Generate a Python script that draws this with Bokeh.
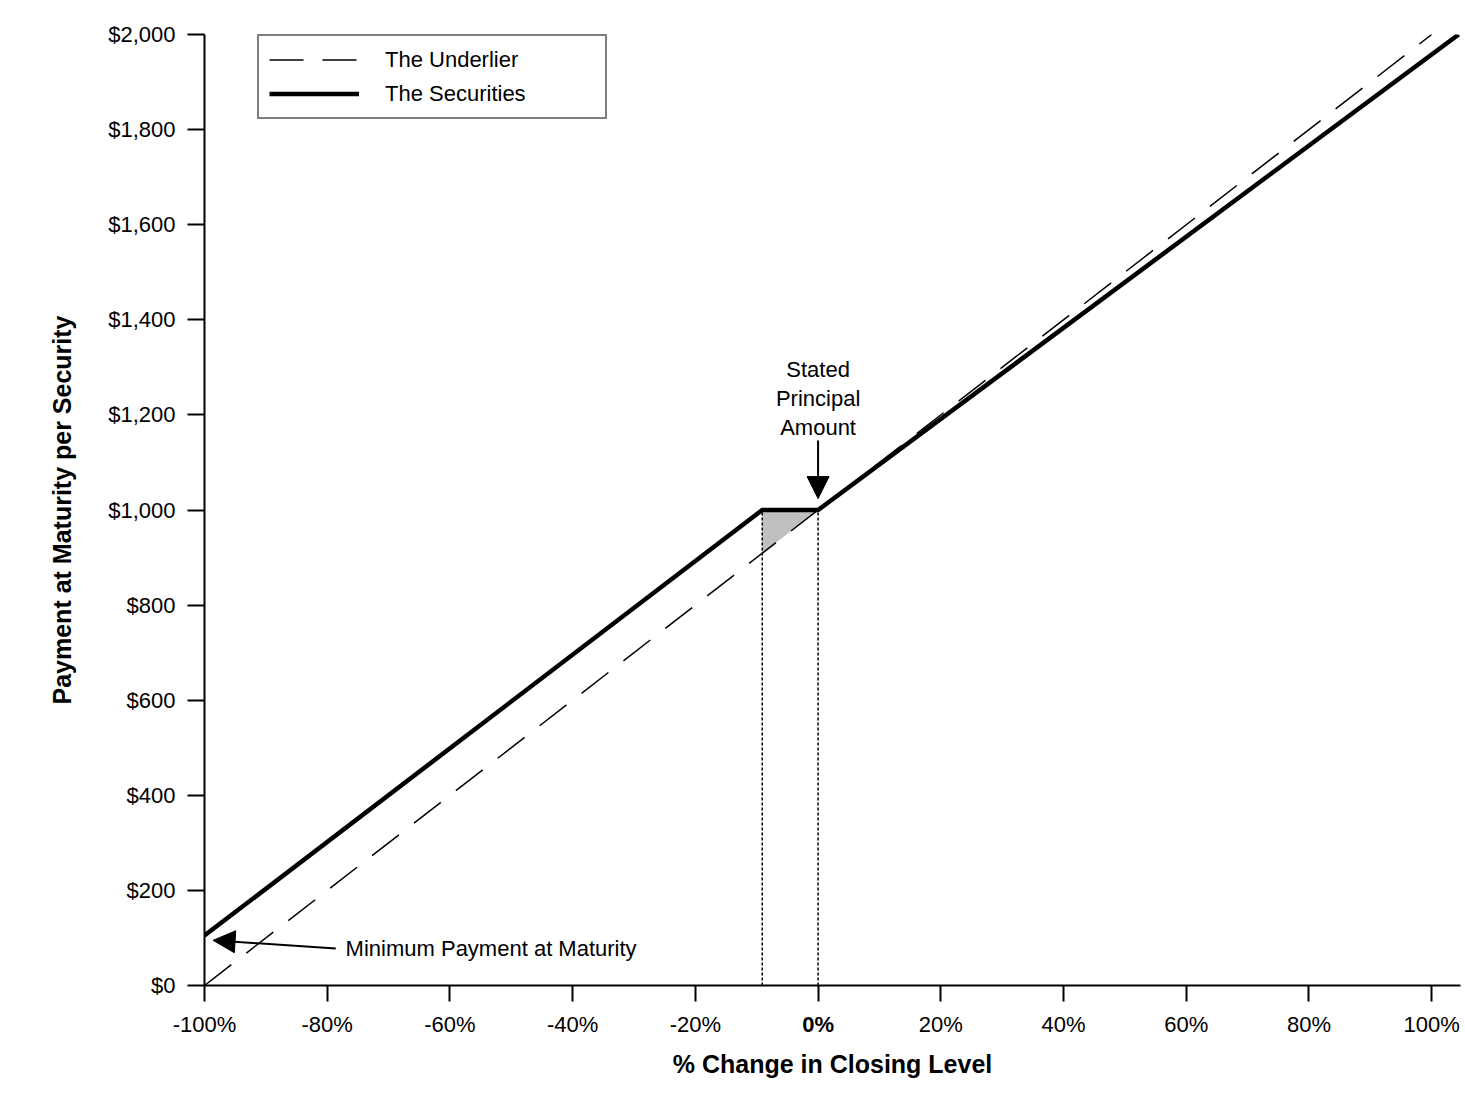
from bokeh.plotting import figure
from bokeh.models import (Range1d, FixedTicker, Legend, LegendItem, Arrow, NormalHead, LinearAxis)
from bokeh.core.properties import value
from bokeh.embed import file_html
from bokeh.resources import INLINE

# ---- data ----
underlier_pct = [-100, 100]
underlier_payment = [0, 2000]
securities_pct = [-100, -9.1, 0, 104.4]
securities_payment = [105, 1000, 1000, 2000]
buffer_pct = [-9.1, 0, -9.1]
buffer_payment = [1000, 1000, 909]
guide_pct = [-9.1, 0]
x_ticks = [-100, -80, -60, -40, -20, 0, 20, 40, 60, 80, 100]
x_tick_labels = ["-100%", "-80%", "-60%", "-40%", "-20%", "0%", "20%", "40%", "60%", "80%", "100%"]
y_ticks = [0, 200, 400, 600, 800, 1000, 1200, 1400, 1600, 1800, 2000]
y_tick_labels = ["$0", "$200", "$400", "$600", "$800", "$1,000", "$1,200", "$1,400", "$1,600", "$1,800", "$2,000"]
min_payment_label = "Minimum Payment at Maturity"
principal_label = "Stated\nPrincipal\nAmount"

FONT = "Liberation Sans"
FS = "22px"

p = figure(width=1463, height=1089, output_backend="svg", toolbar_location=None,
           x_range=Range1d(-100, 104.7), y_range=Range1d(0, 2000),
           min_border_left=204, min_border_right=3, min_border_top=34, min_border_bottom=104)
p.outline_line_color = None
p.grid.visible = False
p.background_fill_color = "white"
p.border_fill_color = "white"

# shaded buffer
p.patch(buffer_pct, buffer_payment, fill_color="#c0c0c0", line_color=None)
# dotted guides
for gx in guide_pct:
    p.line([gx, gx], [0, 1000], line_color="black", line_width=1.5, line_dash="3 2")

r_under = p.line(underlier_pct, underlier_payment, line_color="black", line_width=1.5, line_dash="34 19")
r_sec = p.line(securities_pct, securities_payment, line_color="black", line_width=4.5, line_join="miter")

# axes
for ax in (p.xaxis[0], p.yaxis[0]):
    ax.axis_line_width = 2
    ax.axis_line_color = "black"
    ax.major_tick_line_width = 2
    ax.major_tick_line_color = "black"
    ax.major_tick_in = 0
    ax.minor_tick_line_color = None
    ax.major_label_text_font = FONT
    ax.major_label_text_font_size = FS
    ax.major_label_text_color = "black"
    ax.axis_label_text_font = FONT
    ax.axis_label_text_font_size = "25px"
    ax.axis_label_text_font_style = "bold"
    ax.axis_label_text_color = "black"

p.xaxis.ticker = FixedTicker(ticks=x_ticks)
overrides = {t: l for t, l in zip(x_ticks, x_tick_labels)}
overrides[0] = " "
p.xaxis.major_label_overrides = overrides
p.xaxis.major_tick_out = 16
p.xaxis.major_label_standoff = 10

# second bottom axis: carries the bold "0%" label and the axis title
x2 = LinearAxis(ticker=FixedTicker(ticks=[0]),
                major_label_overrides={0: x_tick_labels[5]},
                axis_line_color=None, major_tick_line_color=None, minor_tick_line_color=None,
                major_tick_in=0, major_tick_out=0, major_label_standoff=-28,
                major_label_text_font=FONT, major_label_text_font_size=FS,
                major_label_text_font_style="bold", major_label_text_color="black",
                axis_label="% Change in Closing Level", axis_label_standoff=10,
                axis_label_text_font=FONT, axis_label_text_font_size="25px",
                axis_label_text_font_style="bold", axis_label_text_color="black")
p.add_layout(x2, "below")

p.yaxis.ticker = FixedTicker(ticks=y_ticks)
p.yaxis.major_label_overrides = {t: l for t, l in zip(y_ticks, y_tick_labels)}
p.yaxis.major_tick_out = 17
p.yaxis.major_label_standoff = 12
p.yaxis.axis_label = "Payment at Maturity per Security"
p.yaxis.axis_label_standoff = 29

# annotations
p.add_layout(Arrow(end=NormalHead(size=22, fill_color="black", line_color="black"),
                   x_start=0, y_start=1146, x_end=0, y_end=1024,
                   line_color="black", line_width=2))
p.text(x=[0], y=[1234], text=[principal_label], text_font=value(FONT), text_font_size=FS,
       text_align="center", text_baseline="middle", text_line_height=1.15, text_color="black")

p.add_layout(Arrow(end=NormalHead(size=22, fill_color="black", line_color="black"),
                   x_start=-78.6, y_start=78, x_end=-98.6, y_end=95,
                   line_color="black", line_width=2))
p.text(x=[-77], y=[78], text=[min_payment_label], text_font=value(FONT), text_font_size=FS,
       text_align="left", text_baseline="middle", text_color="black")

legend = Legend(items=[LegendItem(label="The Underlier", renderers=[r_under]),
                       LegendItem(label="The Securities", renderers=[r_sec])],
                location=(53, 866))
legend.label_text_font = FONT
legend.label_text_font_size = FS
legend.label_text_color = "black"
legend.glyph_width = 90
legend.glyph_height = 27
legend.label_height = 27
legend.label_width = 210
legend.label_standoff = 26
legend.spacing = 7
legend.padding = 10
legend.margin = 0
legend.border_line_color = "black"
legend.border_line_width = 2
legend.background_fill_alpha = 1
p.add_layout(legend)

open("out.html", "w").write(file_html(p, INLINE))
